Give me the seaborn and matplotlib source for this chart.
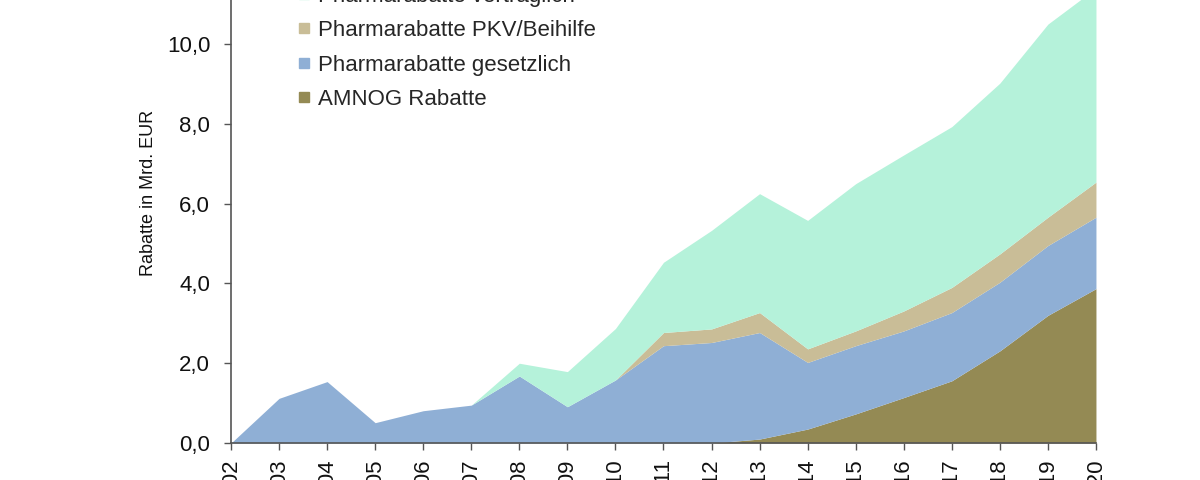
import matplotlib
matplotlib.use("Agg")
import matplotlib.pyplot as plt
from matplotlib.lines import Line2D
from matplotlib.ticker import FuncFormatter
from matplotlib import font_manager
import seaborn as sns

# values in Mrd. EUR
years = list(range(2002, 2021))
amnog = [0, 0, 0, 0, 0, 0, 0, 0, 0, 0, 0, 0.10, 0.35, 0.73, 1.14, 1.56, 2.31, 3.20, 3.87]
gesetzlich = [0, 1.12, 1.54, 0.51, 0.81, 0.95, 1.68, 0.91, 1.58, 2.44, 2.52, 2.67, 1.67,
              1.71, 1.67, 1.71, 1.72, 1.75, 1.79]
pkv = [0, 0, 0, 0, 0, 0, 0, 0, 0, 0.33, 0.34, 0.50, 0.34, 0.37, 0.50, 0.63, 0.71, 0.71, 0.88]
vertraglich = [0, 0, 0, 0, 0, 0, 0.32, 0.88, 1.29, 1.76, 2.47, 2.98, 3.22, 3.69, 3.91,
               4.03, 4.28, 4.84, 4.86]

labels = ["AMNOG Rabatte", "Pharmarabatte gesetzlich",
          "Pharmarabatte PKV/Beihilfe", "Pharmarabatte vertraglich"]
colors = ["#948a54", "#8fafd5", "#c9bd97", "#b5f2da"]

sns.set_theme(style="ticks")
plt.rcParams["font.family"] = ["Liberation Sans", "DejaVu Sans"]

names = {f.name for f in font_manager.fontManager.ttflist}
narrow = "Liberation Sans Narrow" in names
print("narrow font available:", narrow)

fig = plt.figure(figsize=(12, 4.8), dpi=100)
# the reference is a crop: the axes run above the top edge of the picture
ax = fig.add_axes([0.1925, 0.077, 0.7208, 0.9975])

ax.stackplot(years, amnog, gesetzlich, pkv, vertraglich, colors=colors,
             linewidth=0)

ax.set_xlim(2002, 2020)
ax.set_ylim(0, 12)
ax.set_xticks(years)
ax.set_xticklabels([str(y) for y in years], rotation=90, va="top")
ax.set_yticks([0, 2, 4, 6, 8, 10, 12])
ax.yaxis.set_major_formatter(FuncFormatter(lambda v, p: f"{v:.1f}".replace(".", ",")))

ax.tick_params(axis="both", labelsize=16, colors="#555555", labelcolor="#111111",
               length=5, width=1)
ax.tick_params(axis="y", pad=10)
ax.tick_params(axis="x", pad=6)
sns.despine(ax=ax)
for side in ["left", "bottom"]:
    ax.spines[side].set_color("#555555")
    ax.spines[side].set_linewidth(1.2)

if narrow:
    ax.set_ylabel("Rabatte in Mrd. EUR", fontsize=15, color="#111111",
                  family=["Liberation Sans Narrow", "DejaVu Sans"])
else:
    ax.set_ylabel("Rabatte in Mrd. EUR", fontsize=13, color="#111111")
ax.yaxis.set_label_coords(-0.085, 0.522)

handles = [Line2D([], [], linestyle="", marker="s", markersize=7,
                  markerfacecolor=c, markeredgecolor=c) for c in colors]
leg = ax.legend(handles[::-1], labels[::-1], loc="lower left",
                bbox_to_anchor=(282 / 1200, (480 - 125.5) / 480),
                bbox_transform=fig.transFigure, frameon=False, fontsize=16,
                handlelength=0.55, handletextpad=0.35, labelspacing=0.6,
                borderpad=0.2)

fig.savefig("out.png", dpi=100)
